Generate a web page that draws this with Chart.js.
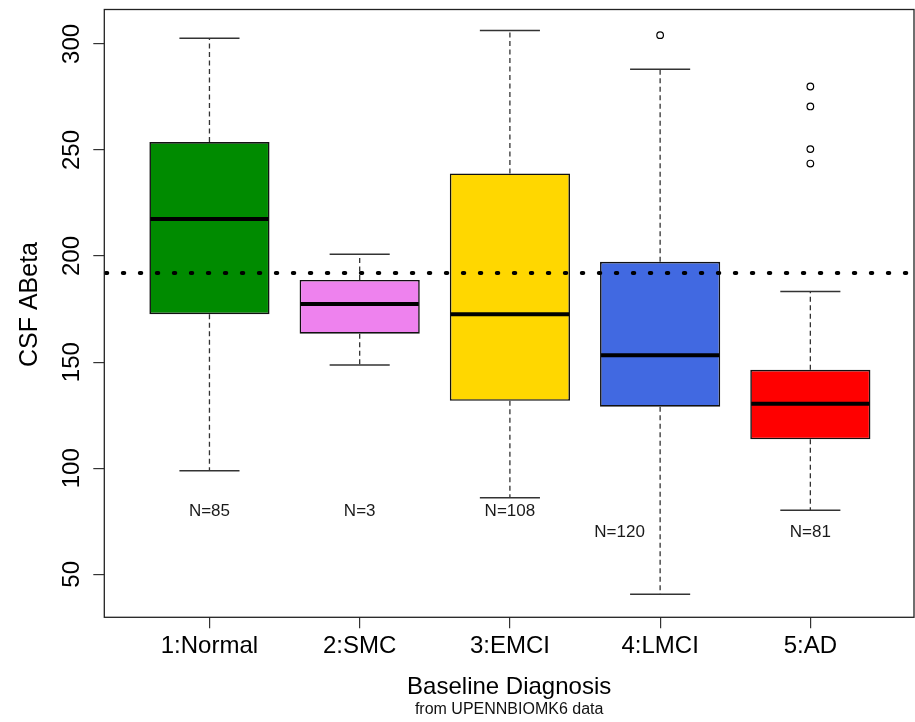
<!DOCTYPE html>
<html>
<head>
<meta charset="utf-8">
<script src="https://cdn.jsdelivr.net/npm/chart.js@4"></script>
<style>
html,body{margin:0;padding:0;background:#ffffff;}
#wrap{width:915px;height:722px;}
</style>
</head>
<body>
<div id="wrap"><canvas id="c" width="915" height="722"></canvas></div>
<script>
// ---- data ----
const categories   = ['1:Normal', '2:SMC', '3:EMCI', '4:LMCI', '5:AD'];
const whiskerLow   = [98.8, 148.6, 86.1, 40.6, 80.2];
const q1           = [172.6, 163.4, 131.8, 129.0, 113.6];
const median       = [217.5, 177.4, 172.6, 153.2, 130.4];
const q3           = [253.7, 188.7, 238.9, 197.3, 146.4];
const whiskerHigh  = [302.7, 200.9, 306.3, 288.0, 183.3];
const outlierGroup = [4, 5, 5, 5, 5];
const outlierValue = [304.1, 279.9, 270.5, 250.4, 243.6];
const counts       = [85, 3, 108, 120, 81];
const countLabelX  = [1, 2, 3, 3.73, 5];
const countLabelY  = [79.5, 79.5, 79.5, 69.8, 69.8];
const referenceLevel = 192.0;
const yTickValues  = [50, 100, 150, 200, 250, 300];
const boxColors    = ['#008B00', '#EE82EE', '#FFD700', '#4169E1', '#FF0000'];

const FONT = "'Liberation Sans', Arial, Helvetica, sans-serif";

function zeroPadding(s) {
  s.paddingLeft = 0; s.paddingRight = 0; s.paddingTop = 0; s.paddingBottom = 0;
}

const boxExtras = {
  id: 'boxExtras',
  afterDatasetsDraw(chart) {
    const ctx = chart.ctx, xs = chart.scales.x, ys = chart.scales.y;
    const bars = chart.getDatasetMeta(0).data;
    const area = chart.chartArea;
    ctx.save();
    categories.forEach((c, i) => {
      const cx = xs.getPixelForValue(i + 1);
      const w = bars[i].width;
      const yHi = ys.getPixelForValue(whiskerHigh[i]);
      const yLo = ys.getPixelForValue(whiskerLow[i]);
      const yQ1 = ys.getPixelForValue(q1[i]);
      const yQ3 = ys.getPixelForValue(q3[i]);
      const yMed = ys.getPixelForValue(median[i]);
      // whiskers
      ctx.setLineDash([5, 3.5]);
      ctx.lineWidth = 1.3;
      ctx.strokeStyle = '#333';
      ctx.beginPath();
      ctx.moveTo(cx, yQ3); ctx.lineTo(cx, yHi);
      ctx.moveTo(cx, yQ1); ctx.lineTo(cx, yLo);
      ctx.stroke();
      // staples
      ctx.setLineDash([]);
      ctx.lineWidth = 1.5;
      ctx.beginPath();
      ctx.moveTo(cx - w / 4, yHi); ctx.lineTo(cx + w / 4, yHi);
      ctx.moveTo(cx - w / 4, yLo); ctx.lineTo(cx + w / 4, yLo);
      ctx.stroke();
      // median
      ctx.lineWidth = 4;
      ctx.strokeStyle = '#000';
      ctx.beginPath();
      ctx.moveTo(cx - w / 2 + 1, yMed); ctx.lineTo(cx + w / 2 - 1, yMed);
      ctx.stroke();
      // N label
      ctx.fillStyle = '#1a1a1a';
      ctx.font = '17px ' + FONT;
      ctx.textAlign = 'center';
      ctx.textBaseline = 'middle';
      ctx.fillText('N=' + counts[i], xs.getPixelForValue(countLabelX[i]), ys.getPixelForValue(countLabelY[i]));
    });
    // reference dotted line
    const yRef = ys.getPixelForValue(referenceLevel);
    ctx.setLineDash([1.5, 15.5]);
    ctx.lineCap = 'round';
    ctx.lineWidth = 4;
    ctx.strokeStyle = '#000';
    ctx.beginPath();
    ctx.moveTo(area.left + 1.5, yRef); ctx.lineTo(area.right, yRef);
    ctx.stroke();
    ctx.restore();
  },
  afterDraw(chart) {
    const ctx = chart.ctx, area = chart.chartArea;
    ctx.save();
    // plot frame
    ctx.lineWidth = 1.3;
    ctx.strokeStyle = '#222';
    ctx.strokeRect(area.left, area.top, area.right - area.left, area.bottom - area.top);
    // y axis title
    ctx.fillStyle = '#000';
    ctx.font = '25px ' + FONT;
    ctx.textAlign = 'center';
    ctx.textBaseline = 'alphabetic';
    ctx.translate(36.5, 304.5);
    ctx.rotate(-Math.PI / 2);
    ctx.fillText('CSF ABeta', 0, 0);
    ctx.restore();
    ctx.save();
    // sub caption
    ctx.fillStyle = '#111';
    ctx.font = '16px ' + FONT;
    ctx.textAlign = 'center';
    ctx.textBaseline = 'alphabetic';
    ctx.fillText('from UPENNBIOMK6 data', (area.left + area.right) / 2, 714.3);
    ctx.restore();
  }
};

new Chart(document.getElementById('c'), {
  type: 'bar',
  data: {
    datasets: [
      {
        type: 'bar',
        data: categories.map((c, i) => ({ x: i + 1, y: [q1[i], q3[i]] })),
        backgroundColor: boxColors,
        borderColor: '#111',
        borderWidth: 1.6,
        borderSkipped: false,
        barPercentage: 0.8,
        categoryPercentage: 1.0,
        order: 2
      },
      {
        type: 'scatter',
        data: outlierGroup.map((g, i) => ({ x: g, y: outlierValue[i] })),
        pointStyle: 'circle',
        pointRadius: 3.3,
        borderColor: '#000',
        borderWidth: 1.2,
        backgroundColor: 'rgba(0,0,0,0)',
        order: 1
      }
    ]
  },
  options: {
    responsive: false,
    animation: false,
    devicePixelRatio: 1,
    layout: { autoPadding: false, padding: { top: 9.5, right: 1, left: 0, bottom: 0 } },
    plugins: { legend: { display: false }, tooltip: { enabled: false } },
    scales: {
      x: {
        type: 'linear',
        min: 0.3,
        max: 5.69,
        offset: false,
        afterBuildTicks: (s) => { s.ticks = categories.map((c, i) => ({ value: i + 1 })); },
        afterFit: (s) => { s.height = 104.7; zeroPadding(s); },
        grid: { offset: false, drawOnChartArea: false, drawTicks: true, tickLength: 11, color: '#333', lineWidth: 1.2 },
        border: { display: false },
        ticks: {
          autoSkip: false,
          maxRotation: 0,
          minRotation: 0,
          padding: 4,
          color: '#000',
          font: { family: FONT, size: 24 },
          callback: (v) => categories[Math.round(v) - 1]
        },
        title: {
          display: true,
          text: 'Baseline Diagnosis',
          color: '#000',
          font: { family: FONT, size: 24 },
          padding: { top: 0, bottom: 20 }
        }
      },
      y: {
        type: 'linear',
        min: 29.74,
        max: 316.2,
        afterBuildTicks: (s) => { s.ticks = yTickValues.map(v => ({ value: v })); },
        afterFit: (s) => { s.width = 104.3; zeroPadding(s); },
        grid: { drawOnChartArea: false, drawTicks: true, tickLength: 11, color: '#333', lineWidth: 1.2 },
        border: { display: false },
        ticks: {
          autoSkip: false,
          minRotation: 90,
          maxRotation: 90,
          crossAlign: 'center',
          padding: 1,
          color: '#000',
          font: { family: FONT, size: 24 }
        }
      }
    }
  },
  plugins: [boxExtras]
});
</script>
</body>
</html>
